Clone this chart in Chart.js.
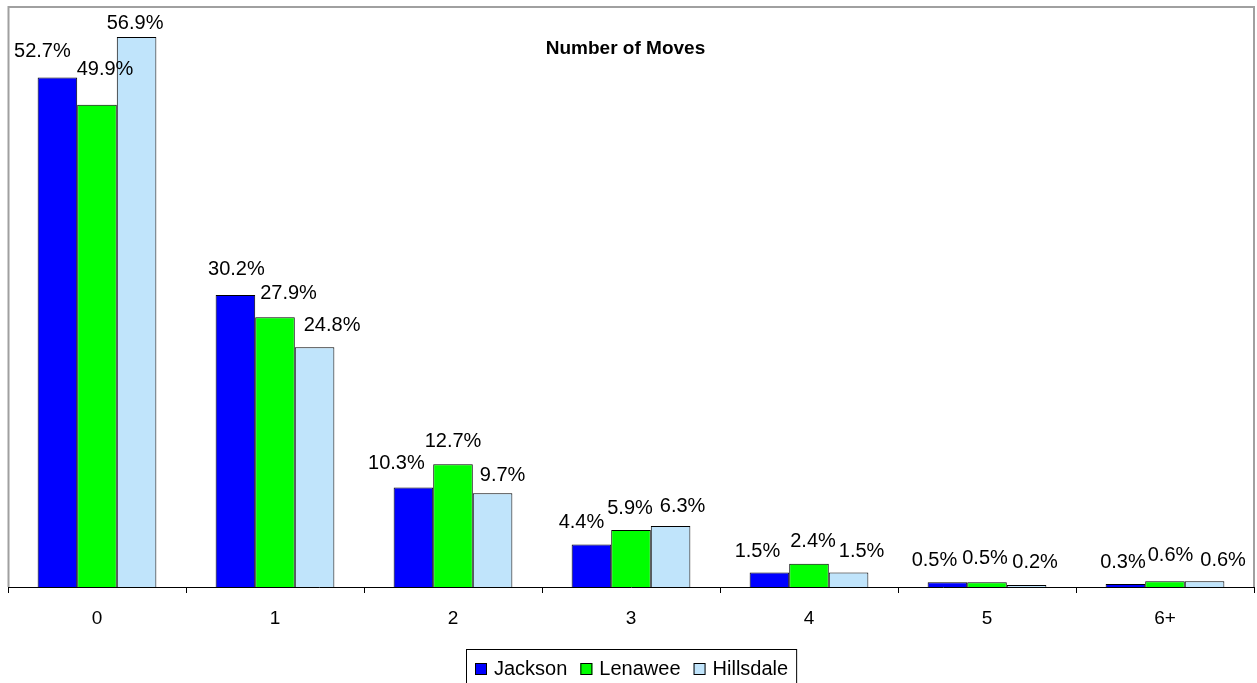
<!DOCTYPE html>
<html>
<head>
<meta charset="utf-8">
<title>Number of Moves</title>
<script src="https://cdn.jsdelivr.net/npm/chart.js@4.4.1/dist/chart.umd.min.js"></script>
<style>
  html, body { margin: 0; padding: 0; background: #fff; }
  #wrap { width: 1257px; height: 683px; position: relative; }
</style>
</head>
<body>
<div id="wrap"><canvas id="movesChart"></canvas></div>
<script>
// ---------- data ----------
const categories = ["0", "1", "2", "3", "4", "5", "6+"];
const seriesNames = ["Jackson", "Lenawee", "Hillsdale"];
const jackson   = [52.7, 30.2, 10.3, 4.4, 1.5, 0.5, 0.3];
const lenawee   = [49.9, 27.9, 12.7, 5.9, 2.4, 0.5, 0.6];
const hillsdale = [56.9, 24.8,  9.7, 6.3, 1.5, 0.2, 0.6];
const yMin = 0;
const yMax = 60;
const chartTitle = "Number of Moves";

// ---------- style ----------
const colors = ["#0000ff", "#00ff00", "#c0e4fb"];
const FONT = '"Liberation Sans", Arial, sans-serif';

// label nudges [dx, dy] from bar centre / bar top (hand placed like the original)
const labelNudge = [
    [[-15,-26.5],[1,-26],[-17,-23.5],[-10,-22],[-12,-21],[-13,-22],[-2.5,-21.5]],
    [[8,-35.5],[13.5,-24],[0,-23],[-1,-21.5],[4,-22],[-2,-23.5],[5.5,-26]],
    [[-1.5,-13],[17.5,-22],[10,-18],[12,-20],[13,-21],[8.5,-22.5],[18.5,-21]]
];

// plot border (grey) on three sides, axis line comes from the x scale
const framePlugin = {
    id: "frame",
    beforeDatasetsDraw(chart) {
        const { ctx, chartArea: a } = chart;
        ctx.save();
        ctx.strokeStyle = "#a0a0a0";
        ctx.lineWidth = 2;
        ctx.beginPath();
        ctx.moveTo(a.left + 0.5, a.bottom);
        ctx.lineTo(a.left + 0.5, a.top);
        ctx.lineTo(a.right, a.top);
        ctx.lineTo(a.right, a.bottom);
        ctx.stroke();
        ctx.restore();
    }
};

// value labels, title and the boxed legend
const textPlugin = {
    id: "texts",
    afterDraw(chart) {
        const { ctx, chartArea: a } = chart;
        ctx.save();

        // value labels
        ctx.font = "20px " + FONT;
        ctx.fillStyle = "#000";
        ctx.textAlign = "center";
        ctx.textBaseline = "middle";
        chart.data.datasets.forEach((ds, i) => {
            chart.getDatasetMeta(i).data.forEach((bar, j) => {
                const n = labelNudge[i][j];
                ctx.fillText(ds.data[j].toFixed(1) + "%", bar.x + n[0], bar.y + n[1]);
            });
        });

        // title
        ctx.font = "bold 19px " + FONT;
        ctx.fillText(chartTitle, chart.width / 2 - 3, a.top + 42);

        // legend
        ctx.font = "20px " + FONT;
        ctx.textAlign = "left";
        const box = 12, gapText = 7, gapItem = 13;
        const widths = seriesNames.map(s => ctx.measureText(s).width);
        const total = widths.reduce((s, w) => s + box + gapText + w, 0) + gapItem * (widths.length - 1);
        let x = Math.round((a.left + a.right) / 2 + 1 - total / 2);
        const midY = 669;
        ctx.strokeStyle = "#000";
        ctx.lineWidth = 1;
        ctx.strokeRect(x - 8.5, 649.5, total + 17, 60);
        seriesNames.forEach((name, i) => {
            ctx.fillStyle = colors[i];
            ctx.fillRect(x, midY - 6, box, box);
            ctx.strokeRect(x + 0.5, midY - 5.5, box - 1, box - 1);
            ctx.fillStyle = "#000";
            ctx.fillText(name, x + box + gapText, midY);
            x += box + gapText + widths[i] + gapItem;
        });

        ctx.restore();
    }
};

new Chart(document.getElementById("movesChart"), {
    type: "bar",
    data: {
        labels: categories,
        datasets: [jackson, lenawee, hillsdale].map((vals, i) => ({
            label: seriesNames[i],
            data: vals,
            backgroundColor: colors[i],
            borderColor: "#000",
            borderWidth: 1,
            categoryPercentage: 0.667,
            barPercentage: 1.0
        }))
    },
    options: {
        responsive: true,
        maintainAspectRatio: false,
        animation: false,
        layout: { padding: { left: 8, right: 3, top: 7, bottom: 0 } },
        plugins: {
            legend: { display: false },
            title: { display: false },
            tooltip: { enabled: false }
        },
        scales: {
            x: {
                offset: true,
                border: { display: true, color: "#000", width: 1 },
                grid: {
                    offset: true,
                    drawOnChartArea: false,
                    drawTicks: true,
                    tickLength: 6,
                    color: "#000"
                },
                ticks: {
                    color: "#000",
                    padding: 14,
                    font: { family: FONT, size: 19 }
                },
                afterFit: (scale) => { scale.height = 96; }
            },
            y: {
                display: false,
                min: yMin,
                max: yMax
            }
        }
    },
    plugins: [framePlugin, textPlugin]
});
</script>
</body>
</html>
